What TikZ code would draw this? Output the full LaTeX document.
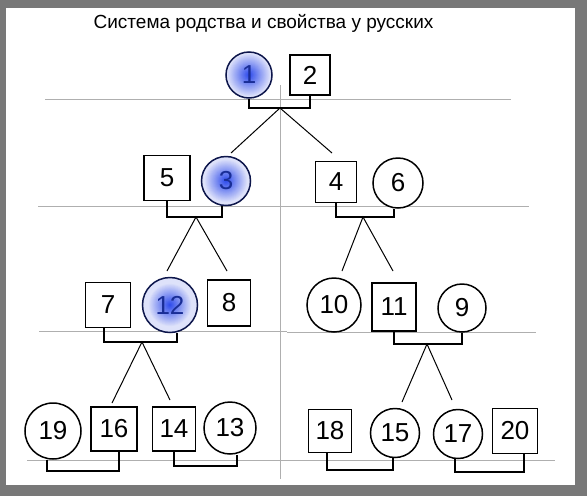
\documentclass[tikz,border=0pt]{standalone}
\usepackage{fontspec}
\setmainfont{Liberation Sans}
\usetikzlibrary{positioning}

\definecolor{framegrey}{RGB}{120,120,120}
\definecolor{rulegrey}{RGB}{175,175,175}
\definecolor{egoblue}{RGB}{25,45,150}
\definecolor{glowin}{RGB}{40,70,235}
\definecolor{glowout}{RGB}{222,226,250}

\begin{document}
\begin{tikzpicture}[
    x=1pt, y=-1pt,
    man/.style={rectangle, draw=black, line width=1.5pt, fill=white, minimum width=44pt, minimum height=44pt, inner sep=0pt, font=\fontsize{26}{26}\selectfont},
    woman/.style={circle, draw=black, line width=1.5pt, fill=white, minimum size=50pt, inner sep=0pt, font=\fontsize{26}{26}\selectfont},
    ego/.style={woman, fill=glowout, draw=egoblue!50!black, text=egoblue,
        path picture={\foreach \k in {0,4,...,96} \fill [glowin!\k!glowout] (path picture bounding box.center) circle ({22pt*(1-\k/100)});}},
    marriage/.style={draw, line width=1.5pt},
    descent/.style={draw, line width=1pt},
    rule/.style={draw=rulegrey, line width=0.8pt}
    ]

    % Frame
    \useasboundingbox (0,0) rectangle (587,496);
    \fill [framegrey] (0,0) rectangle (587,496);
    \fill [white] (6,8) rectangle (575,485);

    % Generation rules
    \draw [rule] (45,99) -- (511,99);
    \draw [rule] (38,206) -- (529,206);
    \draw [rule] (39,331) -- (287,331);
    \draw [rule] (287,332) -- (536,332);
    \draw [rule] (27,460) -- (555,460);
    \draw [rule] (280,85) -- (280,479);

    % Title
    \node (title) [anchor=base, font=\fontsize{19}{19}\selectfont] at (263.5,28) {Система родства и свойства у русских};

    % Nodes
    \node (p1) [ego, minimum size=46pt] at (249,75) {1};
    \node (p2) [man, minimum size=40pt] at (310,75) {2};

    \node (p5) [man, minimum width=46pt, minimum height=45pt] at (167,178) {5};
    \node (p3) [ego, minimum size=49pt] at (226,181) {3};
    \node (p4) [man, minimum size=41pt] at (336,182) {4};
    \node (p6) [woman] at (398,183) {6};

    \node (p7) [man, minimum size=45pt] at (108,305) {7};
    \node (p12) [ego, minimum size=55pt] at (170,305) {12};
    \node (p8) [man, minimum width=43pt, minimum height=46pt] at (229,303) {8};
    \node (p10) [woman, minimum size=54pt] at (334,305) {10};
    \node (p11) [man, minimum width=44pt, minimum height=48pt] at (394,307) {11};
    \node (p9) [woman, minimum size=48pt] at (462,308) {9};

    \node (p19) [woman, minimum size=56pt] at (53,431) {19};
    \node (p16) [man, minimum width=46pt] at (114,429) {16};
    \node (p14) [man, minimum width=43pt] at (174,429) {14};
    \node (p13) [woman, minimum size=52pt] at (230,428) {13};
    \node (p18) [man, minimum size=43pt] at (330,431) {18};
    \node (p15) [woman, minimum size=49pt] at (395,433) {15};
    \node (p17) [woman, minimum size=49pt] at (458,434) {17};
    \node (p20) [man, minimum size=45pt] at (515,431) {20};

    % Marriages
    \coordinate (fam1) at (280,108);
    \coordinate (fam2) at (196,217);
    \coordinate (fam3) at (363,217);
    \coordinate (fam4) at (142,342);
    \coordinate (fam5) at (427,344);
    \coordinate (fam6) at (83,471);
    \coordinate (fam7) at (205,466);
    \coordinate (fam8) at (360,470);
    \coordinate (fam9) at (490,472);

    \draw [marriage] (p1.south) |- (fam1) -| (p2.south);
    \draw [marriage] (p5.south) |- (fam2) -| ([xshift=-4pt]p3.south);
    \draw [marriage] (p4.south) |- (fam3) -| ([xshift=-4pt]p6.south);
    \draw [marriage] ([xshift=-4pt]p7.south) |- (fam4) -| ([xshift=7pt]p12.south);
    \draw [marriage] (p11.south) |- (fam5) -| (p9.south);
    \draw [marriage] ([xshift=-6pt]p19.south) |- (fam6) -| ([xshift=5pt]p16.south);
    \draw [marriage] (p14.south) |- (fam7) -| ([xshift=7pt]p13.south);
    \draw [marriage] ([xshift=-3pt]p18.south) |- (fam8) -| ([xshift=-2pt]p15.south);
    \draw [marriage] ([xshift=-3pt]p17.south) |- (fam9) -| ([xshift=9pt]p20.south);

    % Descent
    \coordinate (to3) at (231,153);
    \coordinate (to4) at (332,153);
    \coordinate (to12) at (167,271);
    \coordinate (to8) at (227,271);
    \coordinate (to10) at (342,271);
    \coordinate (to11) at (393,271);
    \coordinate (to16) at (112,403);
    \coordinate (to14) at (170,400);
    \coordinate (to15) at (402,402);
    \coordinate (to17) at (452,400);

    \draw [descent] (to3) -- (fam1) -- (to4);
    \draw [descent] (to12) -- (fam2) -- (to8);
    \draw [descent] (to10) -- (fam3) -- (to11);
    \draw [descent] (to16) -- (fam4) -- (to14);
    \draw [descent] (to15) -- (fam5) -- (to17);
\end{tikzpicture}
\end{document}
